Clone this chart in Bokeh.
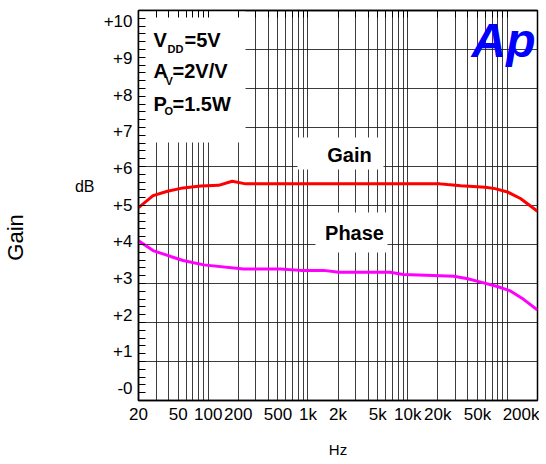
from bokeh.plotting import figure
from bokeh.models import Range1d, FixedTicker, LogAxis, LinearAxis, Label, BoxAnnotation
from bokeh.embed import file_html
from bokeh.resources import INLINE

# ---------------- data ----------------
gain_freq = [20, 28, 39, 56, 84, 127, 174, 237, 1000, 5000, 21000, 25000, 34000,
             60000, 75000, 100000, 135000, 200000]
gain_db = [4.92, 5.25, 5.37, 5.46, 5.51, 5.53, 5.64, 5.57, 5.57, 5.57, 5.57, 5.55, 5.52,
           5.48, 5.44, 5.35, 5.17, 4.82]

phase_freq = [20, 28, 42, 56, 90, 226, 530, 843, 1440, 2040, 6700, 9000, 18000, 29000,
              40000, 54000, 79000, 107000, 145000, 200000]
phase_val = [4.02, 3.75, 3.59, 3.48, 3.36, 3.25, 3.25, 3.21, 3.21, 3.16, 3.16, 3.10, 3.07,
             3.05, 2.98, 2.89, 2.77, 2.65, 2.42, 2.13]

x_tick_values = [20, 50, 100, 200, 500, 1000, 2000, 5000, 10000, 20000, 50000, 200000]
x_tick_labels = ["20", "50", "100", "200", "500", "1k", "2k", "5k", "10k", "20k", "50k", "200k"]

y_tick_values = [0, 1, 2, 3, 4, 5, 6, 7, 8, 9, 10]
y_tick_labels = ["-0", "+1", "+2", "+3", "+4", "+5", "+6", "+7", "+8", "+9", "+10"]

X_MIN, X_MAX = 20, 200000
Y_MIN, Y_MAX = -0.34, 10.30

FONT = "Liberation Sans"


# helpers: reference-picture pixel -> data coordinates (for annotation placement)
def fx(px):
    return 20 * 10 ** ((px - 138) / 99.75)


def fy(py):
    return (387.5 - py) / 36.65


# ---------------- figure ----------------
p = figure(x_axis_type="log",
           x_range=Range1d(X_MIN, X_MAX), y_range=Range1d(Y_MIN, Y_MAX),
           frame_width=399, frame_height=390,
           min_border_left=130, min_border_right=2, min_border_top=10, min_border_bottom=56,
           output_backend="svg", toolbar_location=None)
p.background_fill_color = "white"
p.border_fill_color = "white"
p.outline_line_color = "black"
p.outline_line_width = 1.5

# grids: vertical at every 1..9 x decade, horizontal at ten equal divisions
grid_x = [k * 10 ** d for d in range(1, 6) for k in range(1, 10) if X_MIN < k * 10 ** d < X_MAX]
span = Y_MAX - Y_MIN
grid_y = [Y_MIN + span * k / 10 for k in range(1, 10)]
minor_y = [Y_MIN + span * k / 50 for k in range(1, 50)]

p.xgrid.ticker = FixedTicker(ticks=grid_x)
p.ygrid.ticker = FixedTicker(ticks=grid_y)
for g in (p.xgrid, p.ygrid):
    g.grid_line_color = "#1a1a1a"
    g.grid_line_alpha = 0.85
    g.grid_line_width = 1

# bottom axis
xa = p.xaxis[0]
xa.ticker = FixedTicker(ticks=x_tick_values)
xa.major_label_overrides = {v: t for v, t in zip(x_tick_values, x_tick_labels)}
xa.major_tick_line_color = None
xa.major_tick_in = 0
xa.major_tick_out = 0
xa.minor_tick_line_color = None
xa.minor_tick_in = 0
xa.minor_tick_out = 0
xa.major_label_standoff = 4
xa.major_label_text_font = FONT
xa.major_label_text_font_size = "17px"
xa.major_label_text_color = "black"
xa.axis_line_color = "black"
xa.axis_line_width = 1.5
xa.axis_label = "Hz"
xa.axis_label_text_font = FONT
xa.axis_label_text_font_size = "15px"
xa.axis_label_text_font_style = "normal"
xa.axis_label_text_color = "black"
xa.axis_label_standoff = 14

# left axis
ya = p.yaxis[0]
ya.ticker = FixedTicker(ticks=y_tick_values, minor_ticks=minor_y)
ya.major_label_overrides = {v: t for v, t in zip(y_tick_values, y_tick_labels)}
ya.major_tick_line_color = None
ya.major_tick_in = 0
ya.major_tick_out = 0
ya.minor_tick_line_color = "black"
ya.minor_tick_in = 7
ya.minor_tick_out = 0
ya.major_label_standoff = 6
ya.major_label_text_font = FONT
ya.major_label_text_font_size = "17px"
ya.major_label_text_color = "black"
ya.axis_line_color = "black"
ya.axis_line_width = 1.5

bare = dict(axis_line_color=None, major_tick_line_color=None, minor_tick_line_color=None,
            major_tick_in=0, major_tick_out=0, minor_tick_in=0, minor_tick_out=0,
            major_label_text_font=FONT, major_label_text_color="black")

# outer left axis carrying the "dB" unit text
db_y = round(fy(186), 2)
ua = LinearAxis(ticker=FixedTicker(ticks=[db_y]), major_label_overrides={db_y: "dB"},
                major_label_standoff=6, major_label_text_font_size="16px", **bare)
p.add_layout(ua, "left")

# outermost left axis carrying the vertical "Gain" title
gain_y = round(fy(237), 2)
ga = LinearAxis(ticker=FixedTicker(ticks=[gain_y]), major_label_overrides={gain_y: "Gain"},
                major_label_orientation="vertical", major_label_standoff=43,
                major_label_text_font_size="22px", **bare)
p.add_layout(ga, "left")

# top axis: only inner ticks
top = LogAxis(ticker=FixedTicker(ticks=[], minor_ticks=grid_x),
              major_label_standoff=0, major_tick_in=0, major_tick_out=0,
              major_tick_line_color=None, minor_tick_line_color="black",
              minor_tick_in=7, minor_tick_out=0, axis_line_color="black", axis_line_width=1.5)
p.add_layout(top, "above")

# white boxes behind the text blocks
box_style = dict(fill_color="white", fill_alpha=1.0, line_color=None, level="glyph")
p.add_layout(BoxAnnotation(left=X_MIN, right=fx(245), bottom=fy(142), top=Y_MAX, **box_style))
p.add_layout(BoxAnnotation(left=fx(297), right=fx(383), bottom=fy(169), top=fy(137), **box_style))
p.add_layout(BoxAnnotation(left=fx(315), right=fx(387), bottom=fy(252), top=fy(212), **box_style))

# curves
p.line(gain_freq, gain_db, line_color="#ff0000", line_width=3)
p.line(phase_freq, phase_val, line_color="#ff00ff", line_width=3)


def lab(text, px, py, size, style="bold", align="left", color="black"):
    p.add_layout(Label(x=fx(px), y=fy(py), text=text, text_font=FONT,
                       text_font_size=size, text_font_style=style, text_color=color,
                       text_align=align, text_baseline="middle"))


# condition block with subscripts
lab("V", 153, 39.2, "20px")
lab("DD", 167, 48.5, "11px")
lab("=5V", 184, 39.2, "20px")
lab("A", 153, 70.3, "20px")
lab("V", 165, 80.5, "11px")
lab("=2V/V", 172, 70.3, "20px")
lab("P", 153, 103.8, "20px")
lab("O", 164, 110.5, "11px")
lab("=1.5W", 172, 103.8, "20px")

# curve names
lab("Gain", 349, 154.5, "20px", align="center")
lab("Phase", 354, 232, "20px", align="center")

# logo
lab("Ap", 503, 40, "48px", style="bold italic", align="center", color="#0000ff")

open("out.html", "w").write(file_html(p, INLINE))
